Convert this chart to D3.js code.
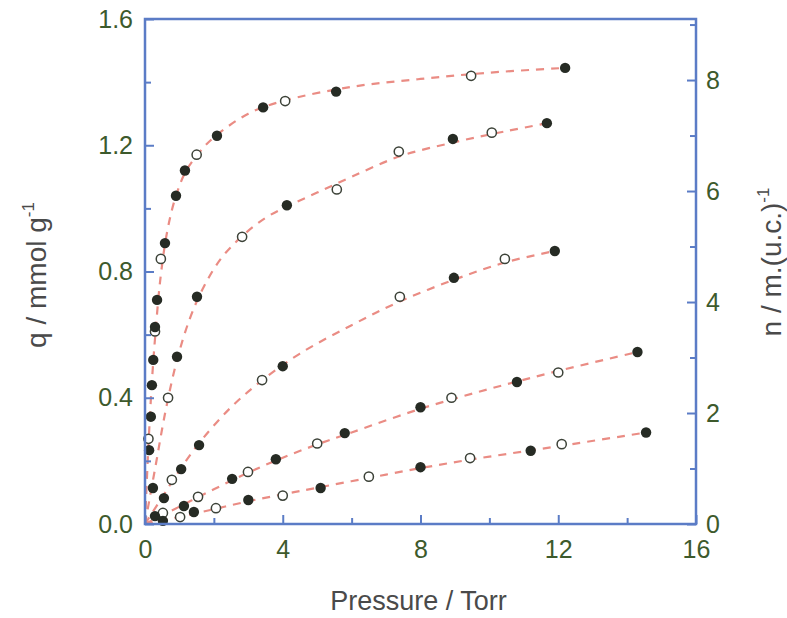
<!DOCTYPE html>
<html>
<head>
<meta charset="utf-8">
<script src="https://cdn.jsdelivr.net/npm/d3@7"></script>
<style>
  html, body { margin: 0; padding: 0; background: #ffffff; }
  svg { display: block; }
  text { font-family: Arial, "Liberation Sans", sans-serif; }
</style>
</head>
<body>
<div id="chart"></div>
<script>
// ---------- data (pressure in Torr, uptake q in mmol/g) ----------
const xTicks = [0, 4, 8, 12, 16];
const xMinor = [2, 6, 10, 14];
const yTicks = [0, 0.4, 0.8, 1.2, 1.6];
const yMinor = [0.2, 0.6, 1.0, 1.4];
const y2Ticks = [0, 2, 4, 6, 8];
const y2Minor = [1, 3, 5, 7, 9];

// isotherm 1 (top)
const s1Filled = [[0.12,0.234],[0.17,0.34],[0.2,0.44],[0.24,0.52],[0.29,0.624],[0.35,0.71],[0.58,0.89],[0.9,1.04],[1.16,1.12],[2.09,1.23],[3.43,1.32],[5.55,1.37],[12.2,1.445]];
const s1Open   = [[0.1,0.27],[0.29,0.61],[0.46,0.84],[1.5,1.17],[4.07,1.34],[9.47,1.42]];
const s1Fit    = [[0,0],[0.05,0.13],[0.1,0.25],[0.2,0.45],[0.3,0.6],[0.45,0.78],[0.65,0.93],[0.9,1.04],[1.2,1.12],[1.6,1.18],[2,1.225],[3,1.3],[4,1.34],[6,1.385],[8,1.41],[10,1.43],[12.2,1.445]];
// isotherm 2
const s2Filled = [[0.23,0.114],[0.93,0.53],[1.51,0.72],[4.12,1.01],[8.94,1.22],[11.67,1.27]];
const s2Open   = [[0.67,0.40],[2.82,0.91],[5.57,1.06],[7.37,1.18],[10.07,1.24]];
const s2Fit    = [[0,0],[0.3,0.18],[0.6,0.36],[0.93,0.52],[1.3,0.65],[1.7,0.75],[2.2,0.84],[2.8,0.91],[3.5,0.97],[4.2,1.01],[5,1.05],[6,1.1],[7.4,1.165],[9,1.21],[10.5,1.245],[11.7,1.27]];
// isotherm 3
const s3Filled = [[0.55,0.082],[1.05,0.174],[1.57,0.25],[4.0,0.50],[8.97,0.78],[11.9,0.865]];
const s3Open   = [[0.78,0.14],[3.4,0.456],[7.4,0.72],[10.45,0.84]];
const s3Fit    = [[0,0],[0.5,0.085],[1,0.17],[1.6,0.26],[2.5,0.37],[3.4,0.455],[4.5,0.54],[6,0.63],[7.4,0.705],[9,0.775],[10.5,0.83],[11.9,0.865]];
// isotherm 4
const s4Filled = [[0.29,0.025],[1.13,0.057],[2.53,0.143],[3.8,0.205],[5.8,0.288],[8.0,0.37],[10.8,0.45],[14.3,0.545]];
const s4Open   = [[0.52,0.035],[1.54,0.086],[2.99,0.165],[5.0,0.255],[8.9,0.40],[12.0,0.48]];
const s4Fit    = [[0,0],[1,0.055],[2,0.11],[3,0.163],[4,0.21],[5,0.252],[6,0.29],[8,0.365],[10,0.428],[12,0.485],[14.3,0.545]];
// isotherm 5 (bottom)
const s5Filled = [[0.52,0.01],[1.42,0.038],[3.0,0.076],[5.1,0.114],[8.0,0.18],[11.2,0.232],[14.55,0.29]];
const s5Open   = [[1.02,0.022],[2.06,0.05],[4.0,0.09],[6.5,0.15],[9.44,0.209],[12.1,0.253]];
const s5Fit    = [[0,0],[1,0.022],[2,0.047],[3,0.072],[4,0.094],[5,0.115],[6.5,0.146],[8,0.177],[9.5,0.205],[11,0.23],[12.1,0.248],[14.55,0.29]];

const filledSets = [s1Filled, s2Filled, s3Filled, s4Filled, s5Filled];
const openSets   = [s1Open, s2Open, s3Open, s4Open, s5Open];
const fitSets    = [s1Fit, s2Fit, s3Fit, s4Fit, s5Fit];

// ---------- layout ----------
const W = 787, H = 618;
const m = { left: 145, right: 696, top: 19, bottom: 524 };
const axisColor = "#5b7cc6";
const tickTextColor = "#3d5a2c";
const titleColor = "#4a4a4a";

const svg = d3.select("#chart").append("svg").attr("width", W).attr("height", H);

const x = d3.scaleLinear().domain([0, 16]).range([m.left, m.right]);
const y = d3.scaleLinear().domain([0, 1.6]).range([m.bottom, m.top]);
const y2 = d3.scaleLinear().domain([0, 9.1]).range([m.bottom, m.top]);

// fit lines
const line = d3.line().x(d => x(d[0])).y(d => y(d[1])).curve(d3.curveCatmullRom.alpha(0.5));
const gPlot = svg.append("g");
fitSets.forEach(fs => {
  gPlot.append("path").attr("d", line(fs))
    .attr("fill", "none").attr("stroke", "#ea8c84").attr("stroke-width", 2.2)
    .attr("stroke-dasharray", "8,7");
});

// markers
const r = 5.2;
openSets.forEach(ps => {
  gPlot.selectAll(null).data(ps).enter().append("circle")
    .attr("cx", d => x(d[0])).attr("cy", d => y(d[1])).attr("r", r - 0.6)
    .attr("fill", "#ffffff").attr("stroke", "#3c4238").attr("stroke-width", 1.5);
});
filledSets.forEach(ps => {
  gPlot.selectAll(null).data(ps).enter().append("circle")
    .attr("cx", d => x(d[0])).attr("cy", d => y(d[1])).attr("r", r)
    .attr("fill", "#262b24");
});

// axes (ticks inward)
const tickFont = "25px";
const gx = svg.append("g").attr("transform", `translate(0,${m.bottom})`)
  .call(d3.axisBottom(x).tickValues(xTicks).tickSize(-9).tickPadding(16).tickFormat(d3.format("d")));
const gxm = svg.append("g").attr("transform", `translate(0,${m.bottom})`)
  .call(d3.axisBottom(x).tickValues(xMinor).tickSize(-6).tickFormat(""));
const gy = svg.append("g").attr("transform", `translate(${m.left},0)`)
  .call(d3.axisLeft(y).tickValues(yTicks).tickSize(-9).tickPadding(12).tickFormat(d3.format(".1f")));
const gym = svg.append("g").attr("transform", `translate(${m.left},0)`)
  .call(d3.axisLeft(y).tickValues(yMinor).tickSize(-6).tickFormat(""));
const gy2 = svg.append("g").attr("transform", `translate(${m.right},0)`)
  .call(d3.axisRight(y2).tickValues(y2Ticks).tickSize(-9).tickPadding(10).tickFormat(d3.format("d")));
const gy2m = svg.append("g").attr("transform", `translate(${m.right},0)`)
  .call(d3.axisRight(y2).tickValues(y2Minor).tickSize(-6).tickFormat(""));

[gx, gxm, gy, gym, gy2, gy2m].forEach(g => {
  g.select(".domain").remove();
  g.selectAll(".tick line").attr("stroke", axisColor).attr("stroke-width", 2);
  g.selectAll(".tick text").attr("fill", tickTextColor).style("font-size", tickFont)
    .style("font-family", "Arial, 'Liberation Sans', sans-serif");
});
gx.selectAll(".tick text").attr("dy", "0.71em");

// frame
svg.append("rect").attr("x", m.left).attr("y", m.top)
  .attr("width", m.right - m.left).attr("height", m.bottom - m.top)
  .attr("fill", "none").attr("stroke", axisColor).attr("stroke-width", 2.5);

// titles
svg.append("text").attr("x", (m.left + m.right) / 2 - 2).attr("y", 610)
  .attr("text-anchor", "middle").attr("fill", titleColor).style("font-size", "27px")
  .text("Pressure / Torr");

const lt = svg.append("text").attr("transform", "translate(46,275) rotate(-90)")
  .attr("text-anchor", "middle").attr("fill", titleColor).style("font-size", "28px");
lt.append("tspan").text("q / mmol g");
lt.append("tspan").attr("dy", -12).style("font-size", "17px").text("-1");

const rt = svg.append("text").attr("transform", "translate(781,262) rotate(-90)")
  .attr("text-anchor", "middle").attr("fill", titleColor).style("font-size", "28px");
rt.append("tspan").text("n / m.(u.c.)");
rt.append("tspan").attr("dy", -12).style("font-size", "17px").text("-1");
</script>
</body>
</html>
